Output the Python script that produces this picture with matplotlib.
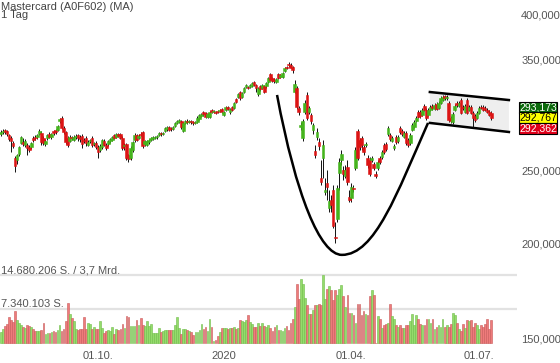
import matplotlib
matplotlib.use("Agg")
import matplotlib.pyplot as plt
import numpy as np
from matplotlib.path import Path
from matplotlib.patches import PathPatch
from matplotlib.ticker import NullLocator, FuncFormatter

plt.rcParams['font.family'] = ['Liberation Sans', 'DejaVu Sans']

# daily candles, Mastercard (A0F602), mid-July 2019 .. mid-July 2020
opens = [
    278.9, 280.6, 282.3, 281.5, 278.1, 275.5, 271.4, 259.3, 257.8, 262.5,
    271.4, 272.2, 269.7, 269.7, 268.1, 268.1, 275.5, 276.4, 276.4, 278.9,
    279.8, 275.5, 270.6, 275.5, 278.9, 276.4, 281.5, 282.3, 282.3, 290.1,
    292.8, 284.0, 280.6, 275.5, 273.0, 276.4, 273.8, 276.4, 278.1, 276.4,
    277.2, 273.8, 275.5, 269.7, 273.0, 275.5, 270.6, 271.4, 268.1, 265.6,
    268.1, 273.0, 269.7, 270.6, 273.0, 273.8, 278.1, 276.4, 278.9, 278.9,
    275.5, 268.9, 270.6, 261.7, 259.3, 265.6, 273.8, 278.1, 275.5, 278.9,
    280.6, 270.6, 269.7, 272.2, 273.8, 274.7, 275.5, 276.4, 278.1, 279.8,
    278.9, 281.5, 283.2, 284.9, 284.0, 283.2, 285.7, 288.4, 289.2, 290.1,
    281.5, 288.4, 290.1, 289.2, 290.1, 289.2, 288.4, 289.2, 291.9, 294.5,
    298.1, 297.2, 293.6, 293.6, 299.9, 298.1, 298.1, 299.0, 299.0, 300.8,
    295.4, 299.9, 302.6, 298.1, 302.6, 301.7, 310.1, 312.0, 316.7, 312.0,
    316.7, 321.6, 321.6, 321.6, 322.5, 326.5, 323.5, 314.8, 322.5, 320.6,
    322.5, 322.5, 326.5, 334.5, 330.4, 328.4, 326.5, 334.5, 331.4, 331.4,
    337.5, 341.6, 344.8, 343.7, 341.6, 316.7, 320.6, 301.7, 284.9, 275.5,
    298.1, 313.9, 298.1, 295.4, 282.3, 264.9, 276.4, 272.2, 244.1, 259.3,
    233.9, 240.4, 222.9, 228.3, 235.3, 204.2, 215.6, 247.8, 257.8, 250.0,
    245.6, 252.4, 230.4, 229.7, 236.8, 251.6, 281.5, 273.8, 275.5, 268.1,
    269.7, 259.3, 257.8, 257.8, 254.7, 247.0, 251.6, 259.3, 260.1, 269.7,
    270.6, 278.9, 278.1, 273.0, 267.3, 276.4, 273.0, 284.0, 281.5, 276.4,
    279.8, 273.8, 271.4, 282.3, 284.9, 290.1, 298.1, 298.1, 295.4, 303.6,
    299.9, 295.4, 299.9, 303.6, 300.8, 305.4, 301.7, 306.3, 309.1, 312.9,
    311.0, 306.3, 292.8, 289.2, 299.9, 306.3, 303.6, 309.1, 302.6, 298.1,
    309.1, 299.9, 302.6, 297.2, 294.5, 292.8, 297.2, 302.6, 302.6, 301.7,
    299.9, 298.1, 297.2,
]
highs = [
    282.3, 283.2, 283.2, 282.3, 278.9, 277.2, 273.0, 260.9, 262.5, 268.9,
    277.2, 275.5, 274.7, 271.4, 269.7, 272.2, 277.2, 278.1, 278.9, 283.2,
    281.5, 277.2, 274.7, 278.9, 280.6, 279.8, 282.3, 283.2, 286.6, 292.8,
    294.5, 285.7, 281.5, 277.2, 278.1, 277.2, 278.1, 278.9, 278.9, 278.1,
    278.9, 275.5, 277.2, 273.8, 274.7, 277.2, 272.2, 273.0, 269.7, 270.6,
    274.7, 274.7, 271.4, 273.8, 275.5, 277.2, 278.9, 279.8, 279.8, 279.8,
    277.2, 271.4, 271.4, 262.5, 268.9, 273.0, 279.8, 278.9, 278.9, 280.6,
    281.5, 273.8, 273.8, 274.7, 276.4, 277.2, 277.2, 278.1, 280.6, 280.6,
    280.6, 284.9, 285.7, 285.7, 284.9, 285.7, 289.2, 291.0, 291.9, 291.0,
    289.2, 291.0, 291.9, 291.0, 291.0, 290.1, 290.1, 294.5, 296.3, 297.2,
    299.0, 298.1, 297.2, 299.0, 300.8, 299.9, 299.0, 299.9, 300.8, 301.7,
    299.0, 303.6, 303.6, 301.7, 303.6, 307.2, 311.0, 315.8, 317.7, 316.7,
    321.6, 324.5, 322.5, 324.5, 326.5, 327.5, 324.5, 321.6, 323.5, 324.5,
    323.5, 326.5, 331.4, 335.5, 331.4, 330.4, 330.4, 335.5, 334.5, 336.5,
    341.6, 342.7, 346.9, 345.8, 342.7, 328.4, 322.5, 303.6, 289.2, 291.9,
    309.1, 316.7, 303.6, 297.2, 288.4, 269.7, 284.0, 275.5, 257.8, 273.8,
    244.1, 250.0, 235.3, 231.8, 239.0, 213.7, 239.0, 259.3, 265.6, 253.1,
    253.9, 257.8, 235.3, 240.4, 239.0, 268.1, 283.2, 275.5, 277.2, 269.7,
    272.2, 261.7, 260.1, 260.9, 256.2, 249.3, 257.8, 260.9, 265.6, 271.4,
    272.2, 285.7, 279.8, 277.2, 270.6, 278.1, 278.1, 285.7, 283.2, 281.5,
    281.5, 275.5, 279.8, 288.4, 291.0, 294.5, 299.9, 299.9, 301.7, 305.4,
    301.7, 301.7, 304.5, 305.4, 306.3, 307.2, 308.2, 312.9, 313.9, 313.9,
    313.9, 308.2, 294.5, 298.1, 305.4, 308.2, 308.2, 311.0, 304.5, 305.4,
    311.0, 304.5, 304.5, 299.0, 296.3, 299.0, 303.6, 304.5, 304.5, 303.6,
    301.7, 299.9, 299.0,
]
lows = [
    277.2, 278.9, 278.9, 277.2, 273.0, 264.1, 267.3, 248.5, 254.7, 260.9,
    270.6, 268.9, 268.1, 261.7, 264.1, 266.5, 272.2, 273.8, 274.7, 278.1,
    269.7, 269.7, 268.9, 273.8, 275.5, 274.7, 278.1, 278.9, 281.5, 288.4,
    283.2, 278.9, 270.6, 268.1, 272.2, 273.8, 273.0, 274.7, 273.0, 272.2,
    267.3, 271.4, 268.9, 268.9, 271.4, 268.1, 268.9, 266.5, 259.3, 264.1,
    266.5, 268.9, 265.6, 268.9, 271.4, 273.0, 274.7, 275.5, 276.4, 274.7,
    265.6, 265.6, 257.8, 256.2, 257.8, 264.1, 272.2, 273.0, 274.7, 277.2,
    267.3, 268.9, 268.9, 270.6, 273.0, 273.8, 274.7, 274.7, 277.2, 277.2,
    278.1, 280.6, 281.5, 281.5, 281.5, 282.3, 284.9, 287.5, 288.4, 283.2,
    280.6, 287.5, 287.5, 288.4, 287.5, 286.6, 287.5, 288.4, 291.0, 293.6,
    294.5, 292.8, 292.8, 292.8, 297.2, 297.2, 296.3, 297.2, 298.1, 297.2,
    294.5, 299.0, 299.9, 296.3, 299.0, 300.8, 306.3, 311.0, 309.1, 311.0,
    315.8, 320.6, 319.6, 320.6, 321.6, 322.5, 316.7, 312.9, 317.7, 319.6,
    315.8, 320.6, 325.5, 327.5, 326.5, 325.5, 325.5, 329.4, 330.4, 330.4,
    336.5, 339.6, 341.6, 340.6, 335.5, 315.8, 300.8, 295.4, 282.3, 273.0,
    296.3, 291.0, 296.3, 287.5, 278.9, 259.3, 273.8, 265.6, 239.0, 244.1,
    231.8, 228.3, 220.2, 220.2, 209.8, 200.5, 213.7, 235.3, 253.9, 242.6,
    244.1, 239.0, 226.9, 226.9, 233.9, 250.0, 257.8, 265.6, 265.6, 261.7,
    268.1, 251.6, 245.6, 256.2, 250.0, 244.1, 250.0, 254.7, 258.6, 262.5,
    264.9, 277.2, 273.0, 272.2, 265.6, 270.6, 271.4, 278.9, 277.2, 275.5,
    269.7, 268.1, 269.7, 281.5, 284.0, 289.2, 292.8, 292.8, 294.5, 299.0,
    291.0, 294.5, 299.0, 299.9, 299.9, 299.9, 300.8, 305.4, 308.2, 309.1,
    309.1, 289.2, 288.4, 287.5, 299.0, 302.6, 302.6, 296.3, 299.9, 297.2,
    296.3, 299.0, 296.3, 284.9, 289.2, 291.9, 296.3, 300.8, 299.0, 299.0,
    297.2, 294.5, 291.0,
]
closes = [
    280.6, 281.5, 280.6, 278.9, 274.7, 273.0, 268.9, 253.1, 261.7, 268.1,
    276.4, 270.6, 273.0, 267.3, 265.6, 271.4, 273.8, 275.5, 278.1, 281.5,
    272.2, 271.4, 273.0, 278.1, 276.4, 278.9, 279.8, 280.6, 285.7, 291.9,
    284.0, 280.6, 272.2, 269.7, 276.4, 275.5, 276.4, 277.2, 275.5, 274.7,
    270.6, 273.0, 271.4, 272.2, 273.8, 269.7, 271.4, 268.1, 264.1, 268.9,
    273.8, 269.7, 267.3, 273.0, 274.7, 276.4, 275.5, 278.9, 277.2, 275.5,
    267.3, 269.7, 259.3, 258.6, 267.3, 272.2, 278.1, 273.8, 277.2, 278.1,
    268.9, 273.0, 273.0, 273.8, 275.5, 276.4, 276.4, 277.2, 279.8, 278.9,
    279.8, 284.0, 284.9, 282.3, 283.2, 284.9, 288.4, 290.1, 291.0, 284.9,
    288.4, 290.1, 289.2, 290.1, 289.2, 288.4, 289.2, 292.8, 295.4, 296.3,
    296.3, 293.6, 296.3, 298.1, 298.1, 299.0, 297.2, 298.1, 299.9, 298.1,
    298.1, 302.6, 300.8, 300.8, 299.9, 306.3, 307.2, 314.8, 311.0, 315.8,
    320.6, 323.5, 320.6, 323.5, 325.5, 323.5, 320.6, 320.6, 319.6, 323.5,
    316.7, 325.5, 330.4, 328.4, 327.5, 327.5, 329.4, 330.4, 333.5, 335.5,
    340.6, 340.6, 343.7, 340.6, 338.5, 324.5, 302.6, 298.1, 286.6, 290.1,
    306.3, 292.8, 301.7, 290.1, 286.6, 261.7, 280.6, 268.9, 241.1, 269.7,
    235.3, 237.5, 227.6, 224.9, 211.1, 203.6, 236.8, 256.2, 262.5, 247.0,
    250.0, 241.1, 228.3, 237.5, 236.1, 265.6, 259.3, 268.1, 269.7, 264.1,
    270.6, 253.9, 247.0, 259.3, 251.6, 245.6, 256.2, 256.2, 264.1, 264.1,
    266.5, 284.0, 274.7, 275.5, 268.9, 272.2, 276.4, 280.6, 278.9, 279.8,
    271.4, 269.7, 278.1, 286.6, 289.2, 292.8, 293.6, 294.5, 299.9, 299.9,
    292.8, 299.9, 302.6, 301.7, 304.5, 300.8, 306.3, 311.0, 312.0, 311.0,
    312.0, 291.0, 290.1, 296.3, 303.6, 304.5, 306.3, 297.2, 301.7, 303.6,
    297.2, 302.6, 297.2, 292.8, 291.0, 297.2, 301.7, 301.7, 299.9, 299.9,
    298.1, 295.4, 292.767,
]
# volume in millions of shares
volumes = [
    2.38, 2.95, 3.60, 4.18, 5.54, 4.90, 4.54, 6.84, 4.90, 4.39,
    3.96, 3.46, 3.24, 3.96, 3.67, 3.46, 2.95, 2.59, 2.52, 2.52,
    2.88, 4.39, 2.02, 2.16, 2.23, 2.38, 2.52, 2.38, 2.74, 3.82,
    2.59, 3.10, 4.82, 8.71, 6.34, 5.47, 4.68, 2.95, 2.88, 2.95,
    2.95, 5.54, 2.95, 4.25, 4.10, 3.10, 3.46, 3.10, 3.10, 4.68,
    3.24, 2.16, 2.66, 2.74, 2.66, 3.53, 2.02, 2.95, 2.88, 3.10,
    4.03, 3.24, 5.76, 5.62, 3.74, 3.74, 3.74, 4.90, 3.82, 5.33,
    3.82, 3.60, 4.82, 3.74, 4.18, 2.16, 2.16, 2.16, 3.31, 2.38,
    2.59, 2.74, 2.74, 2.88, 2.74, 2.88, 3.82, 5.69, 3.24, 2.02,
    3.10, 3.10, 2.74, 2.52, 2.38, 1.80, 2.38, 2.38, 2.88, 4.18,
    2.95, 3.38, 2.59, 5.11, 3.46, 0.36, 0.58, 1.51, 2.38, 3.31,
    3.31, 3.24, 3.10, 3.31, 3.24, 3.38, 3.10, 3.31, 5.04, 4.68,
    4.54, 5.04, 5.98, 4.54, 4.03, 3.53, 3.46, 4.39, 3.60, 4.39,
    3.60, 3.46, 3.82, 3.24, 2.52, 3.46, 3.82, 2.88, 2.74, 2.52,
    3.24, 3.60, 2.88, 4.25, 5.11, 7.85, 12.82, 9.58, 13.90, 12.82,
    9.79, 8.14, 6.34, 6.34, 7.06, 8.28, 8.28, 8.50, 8.28, 14.76,
    9.58, 11.74, 12.31, 11.38, 9.22, 11.38, 10.30, 11.59, 12.60, 10.15,
    7.78, 10.30, 6.55, 6.55, 5.98, 4.39, 8.50, 8.50, 6.12, 6.84,
    6.34, 5.98, 10.08, 11.38, 10.30, 0.07, 5.83, 5.26, 3.24, 3.82,
    4.10, 4.39, 8.50, 5.83, 5.26, 3.96, 3.46, 3.96, 3.24, 3.24,
    3.82, 3.96, 4.68, 6.34, 3.82, 5.98, 5.26, 4.18, 3.96, 3.82,
    5.26, 5.26, 4.39, 5.11, 2.95, 3.46, 3.96, 3.46, 5.11, 3.46,
    3.96, 3.38, 4.03, 6.48, 5.98, 4.32, 3.10, 2.59, 4.18, 3.31,
    5.04, 4.68, 5.04, 3.46, 4.32, 3.82, 3.10, 3.82, 3.46, 4.18,
    5.11, 3.10, 4.90,
]

tick_pos = [48, 110, 173, 236]
tick_labels = ['01.10.', '2020', '01.04.', '01.07.']
price_ticks = [150, 200, 250, 350, 400]
vol_levels = [7.340103, 14.680206]
vol_labels = ['7.340.103 S.', '14.680.206 S. / 3,7 Mrd.']
quotes = [('293,173', '#0b6a0b', 'white'), ('292,767', '#ffff00', 'black'), ('292,362', '#e0001a', 'white')]

# drawn pattern: channel (x index, price) and cup (bezier control points)
channel_x = [211.7, 250.7]
channel_top = [316.7, 309.1]
channel_bot = [288.4, 280.6]
cup_pts = [(136.3, 313.9), (145.6, 231.8), (157.5, 193.4), (168.3, 193.4),
           (184.6, 193.4), (195.5, 233.2), (210.8, 288.4)]

o = np.array(opens)
h = np.array(highs)
l = np.array(lows)
c = np.array(closes)
v = np.array(volumes)
idx = np.arange(len(c))
up = c >= o

green = '#45b41d'
red = '#dc1414'
body_col = np.where(up, green, red)
vol_col = np.where(up, '#95db6c', '#ee7b7b')
vol_edge = np.where(up, '#6fbd48', '#c95a5a')

fig = plt.figure(figsize=(5.6, 3.63), dpi=100)
rect = [0, 18 / 363, 517 / 560, 345 / 363]
axv = fig.add_axes(rect)
ax = fig.add_axes(rect, sharex=axv)
ax.set_facecolor('none')

# volume panel
axv.bar(idx, v, width=0.85, color=vol_col, edgecolor=vol_edge, linewidth=0.4, zorder=2)
for lvl, lab in zip(vol_levels, vol_labels):
    axv.axhline(lvl, color='#e2e2e2', lw=1.6, zorder=1)
    axv.text(0.002, lvl, lab, transform=axv.get_yaxis_transform(), va='bottom', ha='left',
             fontsize=8, color='#555555')
axv.set_ylim(-0.43, 74.05)
axv.axis('off')

# price panel
ax.set_yscale('log')
ax.set_xlim(-0.4, 254.7)
ax.set_ylim(147.2, 418.5)

xs = [channel_x[0], channel_x[1], channel_x[1], channel_x[0]]
ys = [channel_top[0], channel_top[1], channel_bot[1], channel_bot[0]]
ax.fill(xs, ys, color='#eeeeee', zorder=1, lw=0)
ax.plot(channel_x, channel_top, color='black', lw=1.8, zorder=2)
ax.plot(channel_x, channel_bot, color='black', lw=1.8, zorder=2)

codes = [Path.MOVETO] + [Path.CURVE4] * 6
cup = PathPatch(Path(cup_pts, codes), fill=False, edgecolor='black', lw=1.8, zorder=2)
ax.add_patch(cup)

ax.vlines(idx, l, h, color='#111111', lw=0.7, zorder=3)
ax.bar(idx, np.abs(c - o), bottom=np.minimum(o, c), width=1.3, color=body_col,
       edgecolor=body_col, linewidth=0.4, zorder=4)

ax.yaxis.tick_right()
ax.set_yticks(price_ticks)
ax.yaxis.set_minor_locator(NullLocator())
ax.yaxis.set_major_formatter(FuncFormatter(lambda val, pos: f"{val:.3f}".replace('.', ',')))
ax.tick_params(axis='y', length=0, pad=3, labelsize=8, labelcolor='#555555')
ax.set_xticks(tick_pos)
ax.set_xticklabels(tick_labels)
ax.tick_params(axis='x', length=0, pad=4, labelsize=8, labelcolor='#555555')
for s in ax.spines.values():
    s.set_visible(False)

# last price boxes
offs = [7.6, 0, -7.6]
for (txt, fc, tc), dy in zip(quotes, offs):
    ax.annotate(txt, xy=(1, c[-1]), xycoords=('axes fraction', 'data'),
                xytext=(1.5, dy), textcoords='offset points', ha='left', va='center',
                fontsize=7.5, color=tc, annotation_clip=False, zorder=10,
                bbox=dict(boxstyle='square,pad=0.05', fc=fc, ec='black', lw=0.8))

fig.text(1 / 560, 1 - 6.5 / 363, 'Mastercard (A0F602) (MA)', va='center', ha='left',
         fontsize=8, color='#444444')
fig.text(1 / 560, 1 - 15.5 / 363, '1 Tag', va='center', ha='left', fontsize=8, color='#444444')

fig.savefig('out.png', dpi=100)
